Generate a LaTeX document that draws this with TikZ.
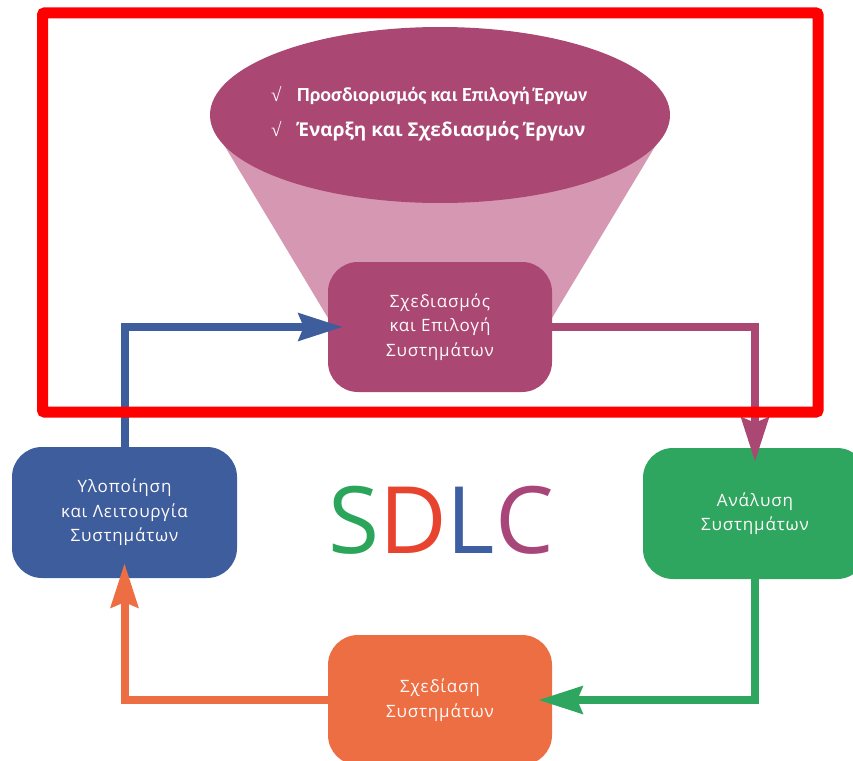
\documentclass[tikz,border=0pt]{standalone}
\usepackage{fontspec}
\usetikzlibrary{arrows.meta}
\newfontfamily\boxfont[LetterSpace=5]{Open Sans}
\newfontfamily\osans{Open Sans}
\newfontfamily\carlito{Carlito}
\newfontfamily\serifsym{Liberation Serif}
\definecolor{plum}{HTML}{AA4873}
\definecolor{pinklight}{HTML}{D597B2}
\definecolor{cblue}{HTML}{3E5D9C}
\definecolor{cgreen}{HTML}{2EA65F}
\definecolor{corange}{HTML}{EE6E43}
\definecolor{sgreen}{HTML}{2BA55A}
\definecolor{sred}{HTML}{E8432F}
\definecolor{sblue}{HTML}{3F5FA3}
\definecolor{splum}{HTML}{A8467A}
\tikzset{
  stagebox/.style={rounded corners=30pt, minimum width=224pt, minimum height=130pt,
    align=center, text=white!94!pink, inner sep=0pt,
    font={\boxfont\fontsize{17pt}{24.5pt}\selectfont}},
  conn/.style={line width=8pt, -{Stealth[length=44pt,width=27pt,inset=5pt]}},
  redframe/.style={draw=red, line width=11pt, rounded corners=2pt},
  funneltext/.style={anchor=base west, text=white, inner sep=0pt}
}
\begin{document}
\begin{tikzpicture}[x=1pt,y=-1pt]
\useasboundingbox (0,0) rectangle (853,760);
\clip (0,0) rectangle (853,760);
% funnel
\fill[pinklight] (215,130) -- (328,318) -- (552,318) -- (665,130) -- cycle;
\fill[plum] (440,115) ellipse [x radius=230pt, y radius=88pt];
\node[funneltext] (ck1) at (271,101) {\serifsym\fontsize{19pt}{20pt}\selectfont √};
\node[funneltext] (l1) at (297,101) {\carlito\bfseries\fontsize{20pt}{24pt}\selectfont Προσδιορισμός και Επιλογή Έργων};
\node[funneltext] (ck2) at (271,136) {\serifsym\fontsize{19pt}{20pt}\selectfont √};
\node[funneltext] (l2) at (297,136) {\osans\bfseries\fontsize{19pt}{24pt}\selectfont Έναρξη και Σχεδιασμός Έργων};
% stages
\node[stagebox, fill=plum] (sysplan) at (440,327) {Σχεδιασμός\\και Επιλογή\\Συστημάτων};
\node[stagebox, fill=cgreen, minimum height=131pt] (anal) at (755,513.5) {Ανάλυση\\Συστημάτων};
\node[stagebox, fill=corange] (design) at (440,700) {Σχεδίαση\\Συστημάτων};
\node[stagebox, fill=cblue, minimum width=225pt, minimum height=131pt] (impl) at (124.5,512.5) {Υλοποίηση\\και Λειτουργία\\Συστημάτων};
% SDLC
\node[anchor=base, inner sep=0pt] (sdlc) at (441,553) {\osans\fontsize{93pt}{100pt}\selectfont\textcolor{sgreen}{S}\textcolor{sred}{D}\textcolor{sblue}{L}\textcolor{splum}{C}};
% connectors
\draw[conn, draw=cblue] (impl.north) |- ([xshift=15pt]sysplan.west);
\draw[conn, draw=plum] (sysplan.east) -| ([yshift=-14pt]anal.north);
\draw[conn, draw=cgreen] (anal.south) |- ([xshift=-14pt]design.east);
\draw[conn, draw=corange] (design.west) -| ([yshift=15pt]impl.south);
% red frame
\draw[redframe] (42.5,13) rectangle (818,412);
\end{tikzpicture}
\end{document}
